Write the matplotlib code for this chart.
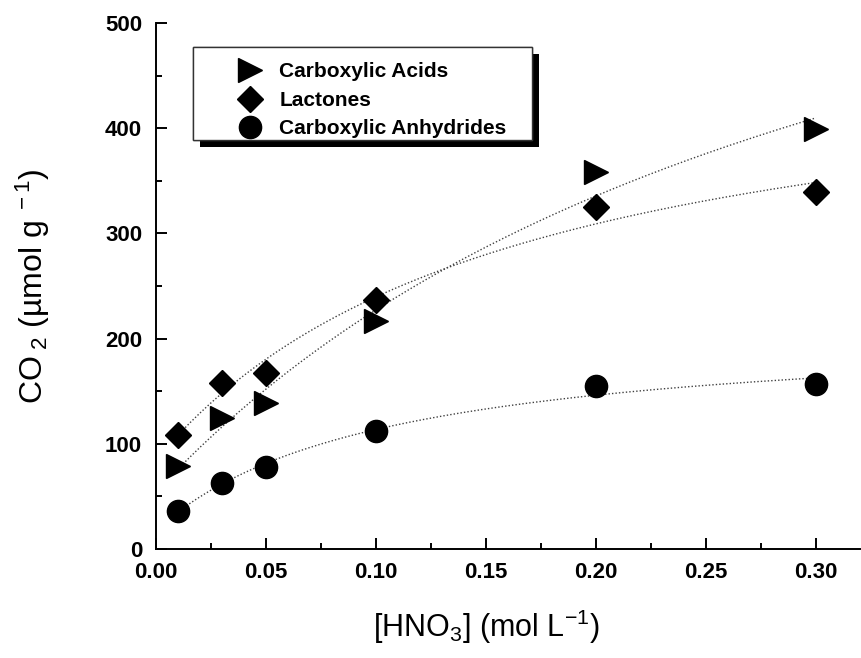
import numpy as np
import matplotlib
matplotlib.use('Agg')
import matplotlib.pyplot as plt
from matplotlib.ticker import MultipleLocator, FormatStrFormatter
from matplotlib.patches import Rectangle
import matplotlib.patheffects as pe

plt.rcParams['font.family'] = 'Liberation Sans'
plt.rcParams['mathtext.fontset'] = 'custom'
plt.rcParams['mathtext.rm'] = 'Liberation Sans'
plt.rcParams['mathtext.it'] = 'Liberation Sans:italic'

# HNO3 concentration (mol/L) and CO2 released (umol/g)
hno3 = np.array([0.01, 0.03, 0.05, 0.10, 0.20, 0.30])
acids = np.array([79, 125, 139, 217, 358, 399])
lactones = np.array([108, 158, 167, 237, 325, 339])
anhydrides = np.array([36, 63, 78, 112, 155, 157])

labels = ['Carboxylic Acids', 'Lactones', 'Carboxylic Anhydrides']


def fit_curve(x, y):
    # y = c + a*x/(1+b*x), scan b and solve a, c by least squares
    best = None
    for b in np.linspace(0.5, 80, 800):
        A = np.column_stack([np.ones_like(x), x / (1 + b * x)])
        coef = np.linalg.lstsq(A, y, rcond=None)[0]
        err = np.sum((A @ coef - y) ** 2)
        if best is None or err < best[0]:
            best = (err, b, coef)
    _, b, (c, a) = best
    return lambda t: c + a * t / (1 + b * t)


fig = plt.figure(figsize=(8.62, 6.58), dpi=100)
ax = fig.add_axes([156 / 862, 1 - 549 / 658, 704 / 862, 526 / 658])

xs = np.linspace(hno3[0], hno3[-1], 200)
for ys in (acids, lactones, anhydrides):
    f = fit_curve(hno3, ys)
    ax.plot(xs, f(xs), linestyle=(0, (1, 1.5)), color='0.25', linewidth=1.0, zorder=1)

h1, = ax.plot(hno3, acids, '>', color='k', markersize=17, linestyle='none', label=labels[0], zorder=3)
h2, = ax.plot(hno3, lactones, 'D', color='k', markersize=13.5, linestyle='none', label=labels[1], zorder=3)
h3, = ax.plot(hno3, anhydrides, 'o', color='k', markersize=16, linestyle='none', label=labels[2], zorder=3)

ax.set_xlim(0, 0.32)
ax.set_ylim(0, 500)
ax.xaxis.set_major_locator(MultipleLocator(0.05))
ax.xaxis.set_minor_locator(MultipleLocator(0.025))
ax.xaxis.set_major_formatter(FormatStrFormatter('%.2f'))
ax.yaxis.set_major_locator(MultipleLocator(100))
ax.yaxis.set_minor_locator(MultipleLocator(50))

for side in ('top', 'right'):
    ax.spines[side].set_visible(False)
for side in ('left', 'bottom'):
    ax.spines[side].set_linewidth(1.4)

ax.tick_params(which='both', direction='in', width=1.4)
ax.tick_params(which='major', length=8)
ax.tick_params(which='minor', length=4.5)
ax.tick_params(axis='x', which='major', pad=9)
ax.tick_params(axis='y', which='major', pad=10)
for lab in ax.get_xticklabels() + ax.get_yticklabels():
    lab.set_fontweight('bold')
    lab.set_fontsize(16)

ax.set_ylabel('CO$_{\\ 2}$ (µmol g$^{\\ -1}$)', fontsize=23)
ax.yaxis.set_label_coords(-0.148, 0.5)
ax.set_xlabel('[HNO$_3$] (mol L$^{-1}$)', fontsize=22)
ax.xaxis.set_label_coords(0.47, -0.112)

# legend box with solid black drop shadow
box = Rectangle((0.0526, 0.778), 0.482, 0.176, transform=ax.transAxes,
                facecolor='white', edgecolor='0.2', linewidth=1.0, zorder=4)
box.set_path_effects([pe.withSimplePatchShadow(offset=(5, -5), shadow_rgbFace='k', alpha=1.0),
                      pe.Normal()])
ax.add_patch(box)

leg = ax.legend(handles=[h1, h2, h3], loc='upper left', bbox_to_anchor=(0.104, 0.925),
                frameon=False, borderpad=0, borderaxespad=0, handlelength=2.0,
                handletextpad=0.4, labelspacing=0.45, prop={'weight': 'bold', 'size': 15})
leg.set_zorder(5)

fig.savefig('out.png', dpi=100)
